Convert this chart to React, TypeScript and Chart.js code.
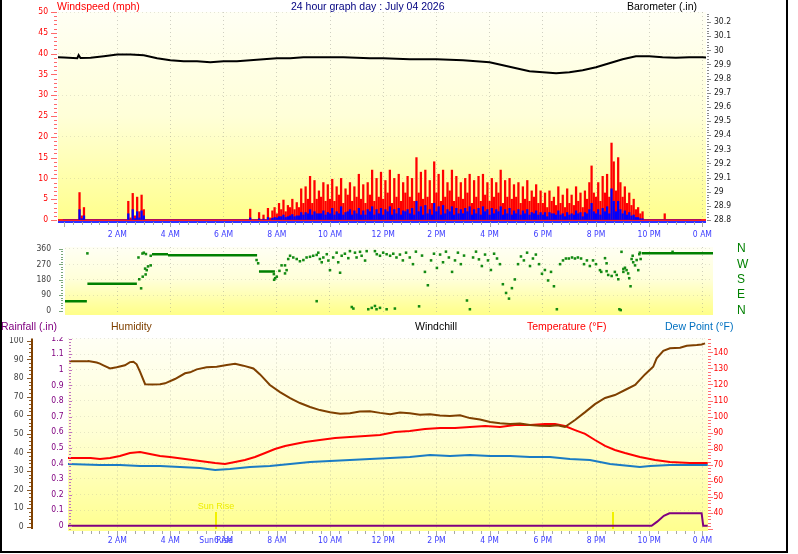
import { useEffect, useRef } from "react";
import { Chart, registerables } from "chart.js";

Chart.register(...registerables);

const TICK_FONT = '"Liberation Sans Narrow", "Arial Narrow", "DejaVu Sans Condensed", sans-serif';
const TEXT_FONT = '"Liberation Sans", Arial, sans-serif';

const TITLE = "24 hour graph day : July 04 2026";

// Hours after midnight that carry a time label
const TIME_TICKS = [2, 4, 6, 8, 10, 12, 14, 16, 18, 20, 22, 24];
const SUN_RISE_H = 5.71;
const SUN_SET_H = 20.63;

// Visible hour span of each panel
const TOP_X = [-0.226, 24.135];
const MID_X = [0.038, 24.4];
const BOT_X = [0.15, 24.21];

// Wind, one sample every 5 minutes from 00:00 (12 samples per hour)
const GUST_MPH = [
  0, 0, 0, 0, 0, 0, 0, 6.6, 1, 3, 0, 0, // 00h
  0, 0, 0, 0, 0, 0, 0, 0, 0, 0, 0, 0, // 01h
  0, 0, 0, 0, 0, 4.5, 0.5, 6.4, 1, 5.5, 2, 6, // 02h
  2.5, 0, 0, 0, 0, 0, 0, 0, 0, 0, 0, 0, // 03h
  0, 0, 0, 0, 0, 0, 0, 0, 0, 0, 0, 0, // 04h
  0, 0, 0, 0, 0, 0, 0, 0, 0, 0, 0, 0, // 05h
  0, 0, 0, 0, 0, 0, 0, 0, 0, 0, 0, 0, // 06h
  2.6, 0, 0, 0, 1.8, 0, 1.2, 0, 2.8, 0.5, 2.2, 3, // 07h
  1.5, 4, 2.5, 4.8, 2, 3.5, 3, 5, 2.5, 4.2, 3, 7.5, // 08h
  4, 8, 5, 10.5, 4, 9.5, 5, 7, 5.5, 9, 4.5, 8.5, // 09h
  5, 9.8, 4.5, 8, 6, 10, 4, 7.5, 6, 9, 4.5, 8, // 10h
  5.5, 11, 5, 8.5, 4, 9, 6, 12, 4.5, 10, 5.5, 11.5, // 11h
  5, 9.5, 6.5, 12, 4, 10, 5.5, 11, 4.5, 9, 6.5, 10.5, // 12h
  5.5, 10, 4.5, 15, 6.5, 11.5, 5, 12, 5.5, 9.5, 4, 14, // 13h
  6.5, 11, 4.5, 12, 5.5, 9, 7, 12, 4.5, 10.5, 5.5, 9, // 14h
  5, 10, 6.5, 11, 4, 9.5, 5.5, 10.5, 4.5, 11, 6, 9, // 15h
  4.5, 10, 5.5, 9, 6.5, 12, 4, 9.5, 5.5, 10, 5, 8.5, // 16h
  5.5, 9, 4, 8, 5, 9.5, 4.5, 7, 5.5, 8.5, 4, 7, // 17h
  4, 6.5, 3, 7, 4.5, 5.5, 3.5, 8, 4, 6, 3, 7.5, // 18h
  4, 6, 3.5, 8, 4.5, 6.5, 3, 7, 5, 9, 13, 6.5, // 19h
  5.5, 9, 4.5, 10.5, 6.5, 11, 5.5, 18.5, 14, 7, 15, 9, // 20h
  5.5, 8, 4, 6.5, 3.5, 5, 2.5, 3, 1.5, 2, 0, 0, // 21h
  0, 0, 0, 0, 0, 0, 0, 1.5, 0, 0, 0, 0, // 22h
  0, 0, 0, 0, 0, 0, 0, 0, 0, 0, 0, 0, // 23h
];

const SPEED_MPH = [
  0, 0, 0, 0, 0, 0, 0, 2.5, 0.3, 1, 0, 0, // 00h
  0, 0, 0, 0, 0, 0, 0, 0, 0, 0, 0, 0, // 01h
  0, 0, 0, 0, 0, 1.5, 0, 2.5, 0.3, 2, 0.5, 2.2, // 02h
  1, 0, 0, 0, 0, 0, 0, 0, 0, 0, 0, 0, // 03h
  0, 0, 0, 0, 0, 0, 0, 0, 0, 0, 0, 0, // 04h
  0, 0, 0, 0, 0, 0, 0, 0, 0, 0, 0, 0, // 05h
  0, 0, 0, 0, 0, 0, 0, 0, 0, 0, 0, 0, // 06h
  0.5, 0, 0, 0, 0.3, 0, 0.2, 0, 0.6, 0, 0.4, 0.6, // 07h
  0.5, 0.8, 0.8, 1.2, 0.6, 0.8, 1, 1.3, 0.8, 1, 1, 1.8, // 08h
  1.2, 1.8, 1.5, 2.5, 1.2, 2, 1.5, 1.5, 1.5, 2.2, 1.2, 1.8, // 09h
  1.5, 2.8, 1.2, 2, 1.5, 3.2, 1.2, 1.8, 2, 2.5, 1.2, 2.2, // 10h
  1.5, 2.8, 1.2, 2.2, 1.2, 2.5, 2, 3.2, 1.2, 2.5, 1.5, 2.8, // 11h
  1.2, 2.5, 2, 3.2, 1.2, 2.5, 1.5, 2.8, 1.2, 2.2, 2, 2.5, // 12h
  1.5, 2.8, 1.2, 4.5, 2, 3.2, 1.2, 3.5, 1.5, 2.5, 1.2, 4, // 13h
  2, 3.2, 1.2, 3.5, 1.5, 2.5, 2, 3.2, 1.2, 2.8, 1.5, 2.5, // 14h
  1.5, 2.8, 2, 3.2, 1.2, 2.5, 1.5, 2.8, 1.2, 3.2, 2, 2.5, // 15h
  1.2, 2.8, 1.5, 2.5, 2, 3.2, 1.2, 2.5, 1.5, 2.8, 1.2, 2.2, // 16h
  1.5, 2.5, 1.2, 2.2, 1.5, 2.5, 1.2, 1.8, 1.5, 2.2, 1.2, 1.8, // 17h
  1.2, 1.8, 0.8, 1.8, 1.5, 1.5, 1.2, 2.2, 1.2, 1.5, 0.8, 1.8, // 18h
  1.2, 1.5, 1.2, 2.2, 1.5, 1.8, 0.8, 1.8, 1.5, 2.5, 4, 2, // 19h
  1.5, 2.5, 1.2, 2.8, 2, 3.2, 1.5, 7.5, 4.5, 2, 4.5, 2.5, // 20h
  1.5, 2.2, 1.2, 1.8, 1, 1.2, 0.6, 0.6, 0.3, 0.3, 0, 0, // 21h
  0, 0, 0, 0, 0, 0, 0, 0, 0, 0, 0, 0, // 22h
  0, 0, 0, 0, 0, 0, 0, 0, 0, 0, 0, 0, // 23h
];

// Barometer (inches)
const BARO_HOURS = [
  -0.25, 0, 0.5, 0.55, 0.62, 1, 1.5, 2, 2.5, 3, 3.5, 4, 4.5, 5, 5.5, 6, 6.5, 7, 7.5, 8, 8.5, 9, 9.5,
  10, 10.5, 11, 11.5, 12, 12.5, 13, 13.5, 14, 14.5, 15, 15.5, 16, 16.5, 17, 17.5, 18, 18.5, 19,
  19.5, 20, 20.5, 21, 21.5, 22, 22.5, 23, 23.5, 24, 24.2,
];
const BARO_IN = [
  29.952, 29.95, 29.944, 29.966, 29.946, 29.948, 29.958, 29.97, 29.97, 29.965, 29.944, 29.93,
  29.923, 29.923, 29.916, 29.923, 29.923, 29.93, 29.937, 29.944, 29.944, 29.951, 29.951, 29.951,
  29.951, 29.948, 29.944, 29.944, 29.94, 29.937, 29.937, 29.937, 29.934, 29.93, 29.923, 29.916,
  29.894, 29.873, 29.852, 29.845, 29.838, 29.845, 29.859, 29.88, 29.908, 29.937, 29.958, 29.958,
  29.951, 29.948, 29.951, 29.951, 29.948,
];
const BARO_TICKS = [28.8, 28.9, 29, 29.1, 29.2, 29.3, 29.4, 29.5, 29.6, 29.7, 29.8, 29.9, 30, 30.1, 30.2];
const SPEED_TICKS = [0, 5, 10, 15, 20, 25, 30, 35, 40, 45, 50];

// Wind direction: steady stretches
const DIR_RUN_START = [0.0, 0.88, 3.31, 3.91, 7.33, 21.72];
const DIR_RUN_END = [0.86, 2.74, 3.91, 7.26, 7.93, 24.4];
const DIR_RUN_DEG = [55, 157, 329, 323, 228, 334];

// Wind direction: individual readings while the wind was shifting
const DIR_HOURS = [
  0.88, 2.8, 2.95, 3.0, 3.08, 2.83, 2.96, 2.9, 3.07, 3.11, 3.16, 3.26, 3.05, 3.26,
  7.24, 7.3, 7.89, 7.94, 7.9, 8.0, 8.1, 8.18, 8.31, 8.37, 8.31, 8.43, 8.5, 8.62, 8.75, 8.87,
  9.0, 9.12, 9.25, 9.37, 9.5, 9.56, 9.62, 9.69, 9.75, 9.88, 9.94, 10.0, 9.5, 10.12, 10.25,
  10.31, 10.38, 10.44, 10.56, 10.69, 10.75, 10.82, 10.88, 10.94, 11.0, 11.13, 11.19, 11.32,
  11.38, 11.44, 11.57, 11.69, 11.75, 11.88, 12.13, 12.44, 11.69, 11.76, 11.88, 12.0, 12.13,
  12.26, 12.38, 12.5,
  12.63, 12.74, 12.86, 13.0, 13.12, 13.23, 13.35, 13.46, 13.57, 13.68, 13.8, 13.91, 14.02,
  14.14, 14.25, 14.36, 14.47, 14.59, 14.7, 14.81, 14.92, 15.04, 15.15, 15.26, 15.38, 15.49,
  15.6, 15.71, 15.83, 15.94, 16.05, 16.17, 16.28, 16.39, 16.5, 16.62, 16.73, 16.84, 16.95,
  17.07, 17.18, 17.29, 17.41, 17.52, 17.63, 17.74, 17.86, 17.97, 18.08, 18.2, 18.31, 18.42,
  18.53, 18.65, 18.76, 18.87, 18.98, 19.1, 19.21, 19.32, 19.44, 19.55, 19.66, 19.77, 19.89, 20.0,
  20.15, 20.2, 20.34, 20.4, 20.4, 20.46, 20.59, 20.71, 20.78, 20.84, 20.88, 20.93, 20.96,
  21.03, 21.03, 21.09, 21.15, 21.21, 21.25, 21.3, 21.34, 21.38, 21.4, 21.47, 21.53, 21.59,
  21.63, 21.65, 21.68, 22.88,
];
const DIR_DEG = [
  334, 310, 333, 338, 330, 183, 198, 130, 211, 236, 258, 264, 245, 320,
  295, 276, 213, 189, 180, 198, 232, 264, 264, 236, 217, 301, 320, 310, 301, 288,
  295, 310, 314, 320, 325, 338, 301, 282, 310, 329, 292, 236, 55, 310, 338,
  282, 221, 320, 332, 306, 347, 21, 12, 338, 310, 343, 320, 292,
  347, 8, 16, 27, 8, 16, 8, 12, 347, 329, 320, 338, 329,
  320, 332, 310,
  327, 293, 338, 310, 271, 344, 25, 321, 226, 148, 293, 332, 249,
  327, 282, 344, 310, 226, 293, 338, 271, 321, 59, 8, 310, 344,
  299, 260, 327, 293, 237, 332, 304, 271, 154, 103, 70, 131, 182,
  271, 316, 293, 338, 260, 304, 327, 271, 215, 237, 176, 226, 142,
  8, 271, 293, 304, 304, 310, 304, 310, 304, 271, 293, 260, 293, 271,
  236, 226, 306, 276, 230, 208, 202, 226, 208, 183, 8, 3, 343,
  243, 226, 250, 236, 217, 189, 142, 301, 320, 282, 264, 295, 236,
  329, 338, 301, 343,
];
const DIR_TICKS = [0, 90, 180, 270, 360];
const COMPASS: Record<number, string> = { 0: "N", 90: "E", 180: "S", 270: "W", 360: "N" };

// Humidity (%)
const HUM_HOURS = [
  0.2, 0.85, 0.91, 1.23, 1.35, 1.48, 1.73, 1.98, 2.29, 2.48, 2.61, 2.73, 2.86, 3.05, 3.31, 3.61,
  3.8, 4.17, 4.55, 4.74, 4.99, 5.36, 5.74, 6.12, 6.43, 6.74, 7.12, 7.37, 7.74, 8.12, 8.5, 8.87,
  9.25, 9.62, 10.0, 10.38, 10.75, 11.12, 11.5, 11.88, 12.26, 12.63, 13.0, 13.38, 13.76, 14.13,
  14.51, 14.89, 15.26, 15.64, 16.02, 16.39, 16.77, 17.14, 17.52, 17.89, 18.27, 18.55, 18.83,
  19.21, 19.59, 19.96, 20.34, 20.71, 21.09, 21.47, 21.84, 22.15, 22.28, 22.53, 22.78, 23.16,
  23.41, 23.79, 23.97, 24.1,
];
const HUM_PCT = [
  88.9, 88.9, 89.1, 88.3, 87.7, 86.8, 85.1, 85.7, 86.8, 88.5, 88.7, 87.3, 83.3, 76.6, 76.4, 76.6,
  77.1, 79.4, 82.5, 83, 84.6, 85.7, 86, 86.9, 87.6, 86.6, 85.1, 81.9, 76.2, 72.4, 69.1, 66.5,
  64.4, 62.7, 61.6, 60.8, 61, 61.9, 62.1, 61.2, 60.5, 61.4, 61, 60.2, 60.5, 59.8,
  59.5, 59.9, 58.4, 57.6, 56.3, 55.6, 55.2, 55.5, 54.7, 54.3, 54.1, 54.6, 53.6,
  57.4, 61.6, 65.9, 69.2, 70.8, 73.5, 76.2, 81.9, 86, 90.5, 94.6, 95.9, 96.2,
  97.3, 97.7, 98, 98.6,
];

// Temperature (°F)
const TEMP_HOURS = [
  0.15, 1.0, 1.35, 1.73, 2.1, 2.48, 2.86, 3.23, 3.61, 3.98, 4.55, 5.11, 5.68, 6.05, 6.43, 6.8,
  7.18, 7.56, 7.93, 8.31, 8.68, 9.06, 9.62, 10.19, 10.75, 11.32, 11.88, 12.44, 13.0, 13.57,
  14.14, 14.7, 15.26, 15.83, 16.39, 16.95, 17.52, 18.08, 18.46, 18.83, 19.21, 19.59, 19.96,
  20.34, 20.71, 21.09, 21.65, 22.22, 22.78, 23.53, 24.2,
];
const TEMP_F = [
  74.2, 74.2, 73.6, 74.2, 75.5, 77.3, 78, 76.7, 75.5, 74.8, 73.6, 72.4, 71.1, 70.5, 71.7, 73,
  74.8, 77.3, 79.8, 81.7, 82.9, 84.2, 85.4, 86.7, 87.3, 87.9, 88.5, 90.4, 91, 92.3,
  92.9, 92.9, 93.5, 94.1, 93.5, 94.8, 94.8, 95.4, 95.4, 94.1, 91.6, 89.2, 85.4,
  81.7, 79.2, 77.3, 74.8, 73, 71.7, 71.1, 71.1,
];

// Dew point (°F)
const DEW_HOURS = [
  0.15, 1.35, 2.1, 2.86, 3.61, 4.36, 5.11, 5.68, 6.24, 6.99, 7.74, 8.5, 9.25, 10.0, 10.75, 11.5,
  12.26, 13.0, 13.76, 14.51, 15.26, 16.02, 16.77, 17.52, 18.27, 19.02, 19.77, 20.15, 20.53,
  20.9, 21.28, 21.65, 22.03, 22.78, 23.53, 24.2,
];
const DEW_F = [
  70.5, 69.9, 69.9, 69.2, 69.2, 68.6, 68, 66.8, 67.4, 68.6, 69.2, 70.5, 71.7, 72.4, 73, 73.6,
  74.2, 74.8, 76.1, 75.5, 76.1, 75.5, 75.5, 74.8, 74.8, 73.6, 73, 71.7, 70.5,
  69.9, 69.2, 68.6, 69.2, 69.9, 69.9, 69.9,
];

// Rainfall (inches, daily total)
const RAIN_HOURS = [0.15, 22.09, 22.3, 22.55, 22.76, 23.97, 24.03, 24.2];
const RAIN_IN = [0, 0, 0.026, 0.064, 0.08, 0.08, 0, 0];

const HUM_TICKS = [0, 10, 20, 30, 40, 50, 60, 70, 80, 90, 100];
const RAIN_TICKS = [0, 0.1, 0.2, 0.3, 0.4, 0.5, 0.6, 0.7, 0.8, 0.9, 1, 1.1, 1.2];
const TEMP_TICKS = [40, 50, 60, 70, 80, 90, 100, 110, 120, 130, 140];

const zipXY = (xs: number[], ys: number[]) => xs.map((x, i) => ({ x, y: ys[i] }));

const windPoints = (vals: number[]) => vals.map((v, i) => ({ x: i / 12, y: v }));

const dirRuns = () => {
  const pts: { x: number; y: number | null }[] = [];
  DIR_RUN_START.forEach((s, i) => {
    pts.push({ x: s, y: DIR_RUN_DEG[i] }, { x: DIR_RUN_END[i], y: DIR_RUN_DEG[i] }, { x: DIR_RUN_END[i], y: null });
  });
  return pts;
};

function hourLabel(v: number): string {
  if (Math.abs(v - SUN_RISE_H) < 1e-6) return "Sun Rise";
  const h = Math.round(v) % 24;
  const h12 = h > 12 ? h - 12 : h;
  return `${h12} ${h < 12 ? "AM" : "PM"}`;
}

const fmt1 = (v: number) => String(Number(Number(v).toFixed(1)));
const fixTicks = (vals: number[]) => (axis: any) => {
  axis.ticks = vals.map((value) => ({ value }));
};
// Fixed axis thickness; label overhang must not shrink the plot
const fixWidth = (w: number) => (s: any) => {
  s.width = w;
  s.paddingTop = 0;
  s.paddingBottom = 0;
};
const fixHeight = (h: number) => (s: any) => {
  s.height = h;
  s.paddingLeft = 0;
  s.paddingRight = 0;
};
const tickFont = { family: TICK_FONT, size: 8.5 };
const dotted = { display: false, dash: [1, 3] };
const faint = "rgba(150,150,140,0.45)";

interface YTickSpec {
  id: string;
  edge: "left" | "right";
  shift: number;
  dir: 1 | -1;
  step: number;
  major: number;
  minorLen: number;
  majorLen: number;
  color: string;
}
interface PanelSpec {
  bg: string[];
  yTicks: YTickSpec[];
  spine?: { id: string; shift: number; color: string; width: number };
  timeTicks?: boolean;
  sun?: boolean;
  calmLines?: { id: string; colors: string[] };
}

// Background wash, sun markers, calm-wind base lines and the fine tick rulers beside each axis
function panelPlugin(spec: PanelSpec) {
  return {
    id: "panel",
    beforeDraw(chart: any) {
      const { ctx, chartArea: a } = chart;
      const g = ctx.createLinearGradient(0, a.top, 0, a.bottom);
      spec.bg.forEach((c, i) => g.addColorStop(i / (spec.bg.length - 1), c));
      ctx.save();
      ctx.fillStyle = g;
      ctx.fillRect(a.left, a.top, a.right - a.left, a.bottom - a.top + 2);
      ctx.restore();
    },
    beforeDatasetsDraw(chart: any) {
      const { ctx, chartArea: a, scales } = chart;
      ctx.save();
      if (spec.calmLines) {
        const y0 = Math.round(scales[spec.calmLines.id].getPixelForValue(0));
        spec.calmLines.colors.forEach((c, i) => {
          ctx.fillStyle = c;
          ctx.fillRect(a.left, y0 - 1 + i * 2, a.right - a.left, 2);
        });
      }
      if (spec.sun) {
        ctx.fillStyle = "#f2f200";
        [SUN_RISE_H, SUN_SET_H].forEach((h) => {
          const x = Math.round(scales.x.getPixelForValue(h));
          ctx.fillRect(x - 1, a.bottom - 17, 2, 17);
        });
        ctx.fillStyle = "#eded00";
        ctx.font = `9px ${TEXT_FONT}`;
        ctx.textAlign = "center";
        ctx.textBaseline = "middle";
        ctx.fillText("Sun Rise", scales.x.getPixelForValue(SUN_RISE_H), a.bottom - 22);
      }
      ctx.restore();
    },
    afterDraw(chart: any) {
      const { ctx, chartArea: a, scales } = chart;
      ctx.save();
      if (spec.spine) {
        const s = scales[spec.spine.id];
        const x = s.right + spec.spine.shift;
        ctx.fillStyle = spec.spine.color;
        ctx.fillRect(x - spec.spine.width / 2, a.top, spec.spine.width, a.bottom - a.top);
      }
      for (const t of spec.yTicks) {
        const s = scales[t.id];
        const base = (t.edge === "left" ? s.right : s.left) + t.shift;
        const every = Math.round(t.major / t.step);
        const k0 = Math.ceil(s.min / t.step - 1e-9);
        const k1 = Math.floor(s.max / t.step + 1e-9);
        ctx.fillStyle = t.color;
        for (let k = k0; k <= k1; k++) {
          const y = Math.round(s.getPixelForValue(k * t.step));
          const len = k % every === 0 ? t.majorLen : t.minorLen;
          ctx.fillRect(t.dir > 0 ? base : base - len, y, len, 1);
        }
      }
      if (spec.timeTicks) {
        const sx = scales.x;
        ctx.fillStyle = "#a8a8a8";
        const k0 = Math.ceil(sx.min * 3);
        const k1 = Math.floor(sx.max * 3);
        for (let k = k0; k <= k1; k++) {
          const x = Math.round(sx.getPixelForValue(k / 3));
          ctx.fillRect(x, a.bottom + 2, 1, k % 6 === 0 ? 5 : 3);
        }
      }
      ctx.restore();
    },
  };
}

const baseOptions = {
  animation: false as const,
  responsive: false,
  devicePixelRatio: 1,
  plugins: { legend: { display: false }, tooltip: { enabled: false } },
  elements: { line: { tension: 0 }, point: { radius: 0 } },
};

function buildTop(canvas: HTMLCanvasElement) {
  return new Chart(canvas, {
    type: "line",
    data: {
      datasets: [
        { label: "Barometer", data: zipXY(BARO_HOURS, BARO_IN), yAxisID: "yBaro", borderColor: "#000000", borderWidth: 2, pointRadius: 0, order: 0 },
        { type: "bar", label: "Wind speed", data: windPoints(SPEED_MPH), yAxisID: "ySpeed", backgroundColor: "#0000ff", borderWidth: 0, barThickness: 1.6, grouped: false, order: 1 },
        { type: "bar", label: "Wind gust", data: windPoints(GUST_MPH), yAxisID: "ySpeed", backgroundColor: "#ff0000", borderWidth: 0, barThickness: 1.6, grouped: false, order: 2 },
      ],
    },
    options: {
      ...baseOptions,
      layout: { padding: { top: 6, left: 0, right: 0, bottom: 0 } },
      scales: {
        x: {
          type: "linear",
          offset: false,
          min: TOP_X[0],
          max: TOP_X[1],
          afterBuildTicks: fixTicks(TIME_TICKS),
          afterFit: fixHeight(25),
          ticks: { callback: (v: any) => hourLabel(Number(v)), color: "#3c3cff", font: tickFont, padding: 10, autoSkip: false, maxRotation: 0, minRotation: 0 },
          grid: { color: faint, drawTicks: false, offset: false },
          border: dotted,
        },
        ySpeed: {
          position: "left",
          min: 0,
          max: 50,
          afterBuildTicks: fixTicks(SPEED_TICKS),
          afterFit: fixWidth(58),
          ticks: { color: "#ff0000", font: tickFont, padding: 10, autoSkip: false },
          grid: { color: (c: any) => (c.tick && c.tick.value % 10 === 0 && c.tick.value > 0 ? "rgba(170,170,150,0.3)" : "rgba(0,0,0,0)"), drawTicks: false },
          border: dotted,
        },
        yBaro: {
          position: "right",
          min: 28.8,
          max: 30.271,
          afterBuildTicks: fixTicks(BARO_TICKS),
          afterFit: fixWidth(92),
          ticks: { color: "#202020", font: tickFont, padding: 8, autoSkip: false, callback: (v: any) => fmt1(v) },
          grid: { display: false, drawTicks: false },
          border: { display: false },
        },
      },
    } as any,
    plugins: [
      panelPlugin({
        bg: ["#fffff4", "#ffffd8", "#ffff8c"],
        yTicks: [
          { id: "ySpeed", edge: "left", shift: -1, dir: -1, step: 1, major: 5, minorLen: 3, majorLen: 6, color: "#ff6a6a" },
          { id: "yBaro", edge: "right", shift: 1, dir: 1, step: 0.02, major: 0.1, minorLen: 2, majorLen: 4, color: "#8a8a8a" },
        ],
        timeTicks: true,
        calmLines: { id: "ySpeed", colors: ["#ff2020", "#3030ff"] },
      }),
    ],
  });
}

function buildMid(canvas: HTMLCanvasElement) {
  return new Chart(canvas, {
    type: "line",
    data: {
      datasets: [
        { label: "Direction", data: dirRuns(), yAxisID: "yDir", borderColor: "#008000", borderWidth: 2.5, pointRadius: 0, spanGaps: false },
        {
          label: "Direction readings",
          data: zipXY(DIR_HOURS, DIR_DEG),
          yAxisID: "yDir",
          showLine: false,
          pointStyle: "rect",
          pointRadius: 1.8,
          pointBorderWidth: 0,
          pointBackgroundColor: "#138a13",
        },
      ],
    },
    options: {
      ...baseOptions,
      layout: { padding: { top: 1, left: 0, right: 0, bottom: 0 } },
      scales: {
        x: {
          type: "linear",
          min: MID_X[0],
          max: MID_X[1],
          afterBuildTicks: fixTicks(TIME_TICKS),
          afterFit: fixHeight(7),
          ticks: { display: false },
          grid: { color: faint, drawTicks: false },
          border: dotted,
        },
        yDir: {
          position: "left",
          min: -13.95,
          max: 371.16,
          afterBuildTicks: fixTicks(DIR_TICKS),
          afterFit: fixWidth(65),
          ticks: { color: "#404040", font: tickFont, padding: 14, autoSkip: false },
          grid: { color: (c: any) => (c.tick && c.tick.value > 0 ? "rgba(170,170,150,0.3)" : "rgba(0,0,0,0)"), drawTicks: false },
          border: dotted,
        },
        yCompass: {
          position: "right",
          min: -13.95,
          max: 371.16,
          afterBuildTicks: fixTicks(DIR_TICKS),
          afterFit: fixWidth(85),
          ticks: { color: "#008000", font: { family: TEXT_FONT, size: 12 }, padding: 24, autoSkip: false, callback: (v: any) => COMPASS[Number(v)] },
          grid: { display: false, drawTicks: false },
          border: { display: false },
        },
      },
    } as any,
    plugins: [
      panelPlugin({
        bg: ["#fffff4", "#ffffd8", "#ffff8c"],
        yTicks: [
          { id: "yDir", edge: "left", shift: -2, dir: -1, step: 15, major: 90, minorLen: 2, majorLen: 4, color: "#7aa87a" },
        ],
      }),
    ],
  });
}

function buildBottom(canvas: HTMLCanvasElement) {
  const xTicks = [...TIME_TICKS, SUN_RISE_H].sort((a, b) => a - b);
  return new Chart(canvas, {
    type: "line",
    data: {
      datasets: [
        { label: "Humidity", data: zipXY(HUM_HOURS, HUM_PCT), yAxisID: "yHum", borderColor: "#7f4000", borderWidth: 2, pointRadius: 0 },
        { label: "Rainfall", data: zipXY(RAIN_HOURS, RAIN_IN), yAxisID: "yRain", borderColor: "#800080", borderWidth: 2, pointRadius: 0 },
        { label: "Temperature", data: zipXY(TEMP_HOURS, TEMP_F), yAxisID: "yTemp", borderColor: "#ff0000", borderWidth: 2, pointRadius: 0 },
        { label: "Dew Point", data: zipXY(DEW_HOURS, DEW_F), yAxisID: "yTemp", borderColor: "#1b7cc4", borderWidth: 2, pointRadius: 0 },
      ],
    },
    options: {
      ...baseOptions,
      layout: { padding: { top: 1.5, left: 0, right: 0, bottom: 0 } },
      scales: {
        x: {
          type: "linear",
          min: BOT_X[0],
          max: BOT_X[1],
          afterBuildTicks: fixTicks(xTicks),
          afterFit: fixHeight(25),
          ticks: { callback: (v: any) => hourLabel(Number(v)), color: "#3c3cff", font: tickFont, padding: 7, autoSkip: false, maxRotation: 0, minRotation: 0 },
          grid: { color: (c: any) => (c.tick && Math.abs(c.tick.value - SUN_RISE_H) < 1e-6 ? "rgba(0,0,0,0)" : faint), drawTicks: false },
          border: dotted,
        },
        yHum: {
          position: "left",
          weight: 1,
          min: -1.24,
          max: 101.2,
          afterBuildTicks: fixTicks(HUM_TICKS),
          afterFit: fixWidth(36),
          ticks: { color: "#404040", font: tickFont, padding: 12.5, autoSkip: false },
          grid: { display: false, drawTicks: false },
          border: { display: false },
        },
        yRain: {
          position: "left",
          weight: 0,
          min: -0.021,
          max: 1.2,
          afterBuildTicks: fixTicks(RAIN_TICKS),
          afterFit: fixWidth(32),
          ticks: { color: "#800080", font: tickFont, padding: 4.5, autoSkip: false, callback: (v: any) => fmt1(v) },
          grid: { color: (c: any) => (c.tick && c.tick.value > 0.05 ? "rgba(170,170,150,0.28)" : "rgba(0,0,0,0)"), drawTicks: false },
          border: dotted,
        },
        yTemp: {
          position: "right",
          min: 30,
          max: 148.6,
          afterBuildTicks: fixTicks(TEMP_TICKS),
          afterFit: fixWidth(90),
          ticks: { color: "#ff0000", font: tickFont, padding: 5.5, autoSkip: false },
          grid: { display: false, drawTicks: false },
          border: { display: false },
        },
      },
    } as any,
    plugins: [
      panelPlugin({
        bg: ["#fffff4", "#ffffd4", "#ffff90"],
        spine: { id: "yHum", shift: -4, color: "#7f4000", width: 2 },
        yTicks: [
          { id: "yHum", edge: "left", shift: -5, dir: -1, step: 2, major: 10, minorLen: 2, majorLen: 4, color: "#8a5a2a" },
          { id: "yRain", edge: "left", shift: 1, dir: 1, step: 0.02, major: 0.1, minorLen: 2, majorLen: 3, color: "#c070c0" },
          { id: "yTemp", edge: "right", shift: 0, dir: 1, step: 2, major: 10, minorLen: 3, majorLen: 5, color: "#ff7070" },
        ],
        timeTicks: true,
        sun: true,
      }),
    ],
  });
}

const textStyle = (left: number, top: number, color: string) => ({
  position: "absolute" as const,
  left,
  top,
  color,
  fontFamily: TEXT_FONT,
  fontSize: 10.5,
  lineHeight: "12px",
  whiteSpace: "nowrap" as const,
});

export default function App() {
  const topRef = useRef<HTMLCanvasElement>(null);
  const midRef = useRef<HTMLCanvasElement>(null);
  const botRef = useRef<HTMLCanvasElement>(null);

  useEffect(() => {
    const charts = [buildTop(topRef.current!), buildMid(midRef.current!), buildBottom(botRef.current!)];
    return () => charts.forEach((c) => c.destroy());
  }, []);

  return (
    <div style={{ position: "fixed", left: 0, top: 0, width: 798, height: 554, background: "#ffffff", overflow: "hidden" }}>
      <canvas ref={topRef} width={798} height={239} style={{ position: "absolute", left: 0, top: 6, width: 798, height: 239 }} />
      <canvas ref={midRef} width={798} height={77} style={{ position: "absolute", left: 0, top: 243, width: 798, height: 77 }} />
      <canvas ref={botRef} width={798} height={217} style={{ position: "absolute", left: 0, top: 337, width: 798, height: 217 }} />

      <div style={textStyle(57, 0, "#ff0000")}>Windspeed (mph)</div>
      <div style={textStyle(291, 0, "#000080")}>{TITLE}</div>
      <div style={textStyle(627, 0, "#000000")}>Barometer (.in)</div>

      <div style={textStyle(1, 319.5, "#800080")}>Rainfall (.in)</div>
      <div style={textStyle(111, 319.5, "#7f4000")}>Humidity</div>
      <div style={textStyle(415, 319.5, "#000000")}>Windchill</div>
      <div style={textStyle(527, 319.5, "#ff0000")}>Temperature (°F)</div>
      <div style={textStyle(665, 319.5, "#0070c0")}>Dew Point (°F)</div>

      <div
        style={{
          position: "absolute",
          left: 0,
          top: -4,
          width: 788,
          height: 557,
          borderLeft: "2px solid #000",
          borderRight: "2px solid #000",
          borderBottom: "2px solid #000",
          boxSizing: "border-box",
        }}
      />
    </div>
  );
}
